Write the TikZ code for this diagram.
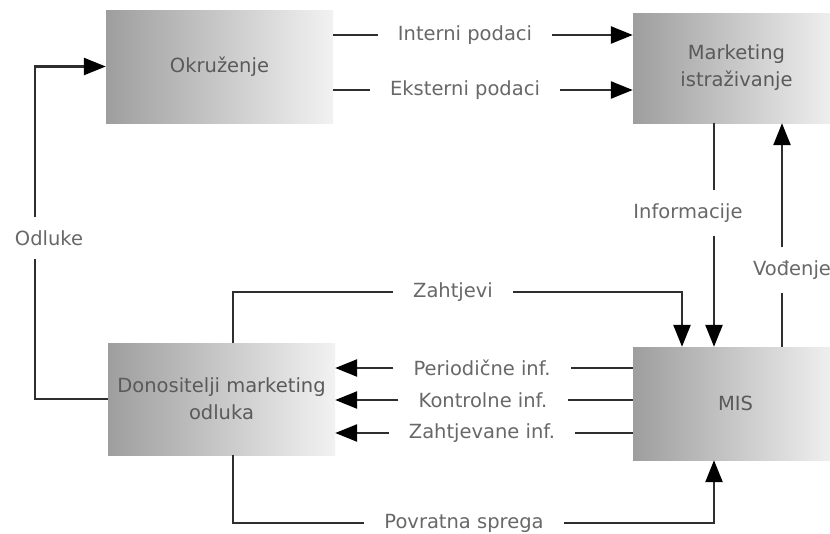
\documentclass[tikz,border=0pt]{standalone}
\usepackage{fontspec}
\setmainfont{DejaVu Sans}
\usetikzlibrary{arrows.meta}
\definecolor{linegrey}{HTML}{2E2E2E}
\definecolor{textgrey}{HTML}{686868}
\definecolor{boxtext}{HTML}{5A5A5A}
\definecolor{boxdark}{HTML}{9E9E9E}
\definecolor{boxlight}{HTML}{F2F2F2}
\newcommand{\lblfont}{\fontsize{19.5}{27}\selectfont}

\begin{document}
\begin{tikzpicture}[x=1pt, y=-1pt,
    box/.style={left color=boxdark, right color=boxlight, text=boxtext,
                align=center, inner sep=0pt, font=\lblfont},
    lbl/.style={text=textgrey, inner xsep=20pt, inner ysep=13pt, font=\lblfont},
    wire/.style={draw=linegrey, line width=2.5pt},
    arr/.style={wire, -{Triangle[length=22pt, width=17pt, color=black]}}]
  \clip (0,0) rectangle (830,533);
  \fill[white] (0,0) rectangle (830,533);

  % boxes
  \node[box, minimum width=227pt, minimum height=113pt] (okr) at (219.5, 66.5) {Okruženje};
  \node[box, minimum width=207pt, minimum height=110pt] (mi) at (736.5, 68) {Marketing\\istraživanje};
  \node[box, minimum width=227pt, minimum height=112pt] (don) at (221.5, 399) {Donositelji marketing\\odluka};
  \node[box, minimum width=205pt, minimum height=113pt] (mis) at (735.5, 403.5) {MIS};

  % labels
  \node[lbl] (intl) at (465, 35) {Interni podaci};
  \node[lbl] (extl) at (465, 90) {Eksterni podaci};
  \node[lbl] (odl) at (49, 238) {Odluke};
  \node[lbl] (inf) at (688, 213) {Informacije};
  \node[lbl] (vod) at (792, 270) {Vođenje};
  \node[lbl] (zah) at (453, 292) {Zahtjevi};
  \node[lbl] (per) at (482, 368) {Periodične inf.};
  \node[lbl] (kon) at (483, 400) {Kontrolne inf.};
  \node[lbl] (ztv) at (482, 433) {Zahtjevane inf.};
  \node[lbl] (pov) at (464, 523) {Povratna sprega};

  \coordinate (lftx) at (35, 0);
  \coordinate (donx) at (233, 0);
  \coordinate (zahx) at (682, 0);
  \coordinate (infx) at (714, 0);
  \coordinate (vodx) at (782, 0);

  % top
  \draw[wire] (okr.east |- intl) -- (intl.west);
  \draw[arr] (intl.east) -- (mi.west |- intl);
  \draw[wire] (okr.east |- extl) -- (extl.west);
  \draw[arr] (extl.east) -- (mi.west |- extl);

  % left loop
  \draw[wire] (don.west) -| (lftx |- odl.south);
  \draw[arr] (lftx |- odl.north) |- (okr.west);

  % right side
  \draw[wire] (infx |- mi.south) -- (infx |- inf.north);
  \draw[arr] (infx |- inf.south) -- (infx |- mis.north);
  \draw[wire] (vodx |- mis.north) -- (vodx |- vod.south);
  \draw[arr] (vodx |- vod.north) -- (vodx |- mi.south);

  % requests and feedback
  \draw[wire] (donx |- don.north) |- (zah.west);
  \draw[arr] (zah.east) -| (zahx |- mis.north);
  \draw[wire] (donx |- don.south) |- (pov.west);
  \draw[arr] (pov.east) -| (infx |- mis.south);

  % reports
  \foreach \r in {per, kon, ztv} {
    \draw[wire] (mis.west |- \r) -- (\r.east);
    \draw[arr] (\r.west) -- (don.east |- \r);
  }
\end{tikzpicture}
\end{document}
